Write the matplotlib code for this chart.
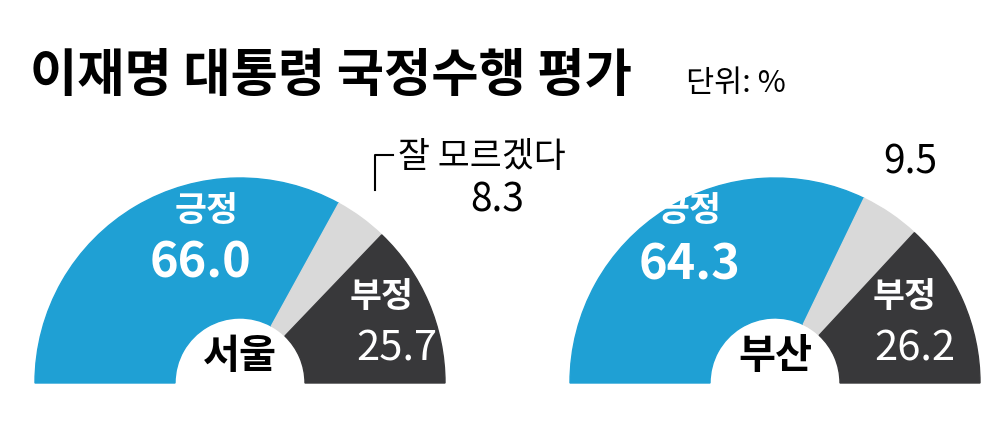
import matplotlib
matplotlib.use("Agg")
import matplotlib.pyplot as plt
from matplotlib.patches import Wedge

plt.rcParams['font.family'] = ['Noto Sans CJK KR', 'DejaVu Sans']

regions = ["서울", "부산"]
categories = ["긍정", "잘 모르겠다", "부정"]
seoul = [66.0, 8.3, 25.7]
busan = [64.3, 9.5, 26.2]
colors = ["#1fa0d4", "#d9d9d9", "#38383a"]

fig = plt.figure(figsize=(10, 4.37), dpi=100)
ax = fig.add_axes([0, 0, 1, 1])
ax.set_xlim(0, 1000)
ax.set_ylim(437, 0)
ax.set_aspect('equal')
ax.axis('off')

R, r = 205, 65
centers = [(240, 383), (775, 383)]
for (cx, cy), vals, name in zip(centers, [seoul, busan], regions):
    start = 180.0
    for v, c in zip(vals, colors):
        ext = v / 100 * 180
        ax.add_patch(Wedge((cx, cy), R, -start, -(start - ext), width=R - r, color=c))
        start -= ext
    ax.text(cx, cy - 27, name, ha='center', va='center', fontsize=29, fontweight='bold', color='black')

# Seoul labels
ax.text(207, 210, "긍정", ha='center', va='center', fontsize=25, fontweight='bold', color='white')
ax.text(200, 263, f"{seoul[0]:.1f}", ha='center', va='center', fontsize=35, fontweight='bold', color='white')
ax.text(382, 296, "부정", ha='center', va='center', fontsize=25, fontweight='bold', color='white')
ax.text(397, 349, f"{seoul[2]:.1f}", ha='center', va='center', fontsize=30, color='white')
ax.text(398, 158, "잘 모르겠다", ha='left', va='center', fontsize=25, color='black')
ax.text(497, 200, f"{seoul[1]:.1f}", ha='center', va='center', fontsize=28, color='black')
ax.plot([375, 375, 393], [190, 155, 155], color='black', lw=1.5)

# Busan labels
ax.text(690, 210, "긍정", ha='center', va='center', fontsize=25, fontweight='bold', color='white')
ax.text(690, 265, f"{busan[0]:.1f}", ha='center', va='center', fontsize=35, fontweight='bold', color='white')
ax.text(910, 163, f"{busan[1]:.1f}", ha='center', va='center', fontsize=28, color='black')
ax.text(905, 296, "부정", ha='center', va='center', fontsize=25, fontweight='bold', color='white')
ax.text(915, 349, f"{busan[2]:.1f}", ha='center', va='center', fontsize=30, color='white')

ax.text(30, 75, "이재명 대통령 국정수행 평가", ha='left', va='center', fontsize=37, fontweight='bold', color='black')
ax.text(686, 84, "단위: %", ha='left', va='center', fontsize=22, color='black')

fig.savefig("out.png", dpi=100)
